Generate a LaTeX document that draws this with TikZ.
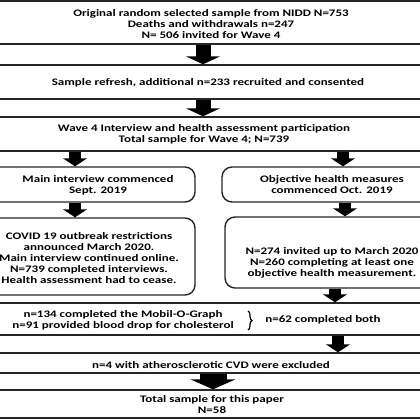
\documentclass[tikz,border=0pt]{standalone}
\usepackage{fontspec}
\setmainfont{Carlito}[FakeStretch=1.3]
\usetikzlibrary{arrows.meta,decorations.pathreplacing,calc}
\begin{document}
\begin{tikzpicture}[x=1pt,y=-1pt,
  box/.style={draw=black!85, line width=1.4pt, inner sep=0pt},
  rbox/.style={box, rounded corners=10pt},
  lbl/.style={font=\fontsize{10}{11}\selectfont\bfseries, align=center, inner sep=0pt},
  bigarrow/.style={line width=15pt, -{Triangle[width=34pt,length=8pt]}},
  smallarrow/.style={line width=12pt, -{Triangle[width=24pt,length=8pt]}},
  hugearrow/.style={line width=27pt, -{Triangle[width=45pt,length=10pt]}},
]
\useasboundingbox (0,0) rectangle (420,420);
\fill[white] (0,0) rectangle (420,420);
\begin{scope}
\clip (0,0) rectangle (420,420);
% boxes
\node[box, minimum width=440pt, minimum height=43pt] (b1) at (210,22.5) {};
\node[box, minimum width=440pt, minimum height=34pt] (b2) at (210,82) {};
\node[box, minimum width=440pt, minimum height=34pt] (b3) at (210,134) {};
\node[rbox, minimum width=205pt, minimum height=35pt] (b4l) at (92.5,184.5) {};
\node[rbox, minimum width=220pt, minimum height=35pt] (b4r) at (332,184.5) {};
\node[rbox, minimum width=205pt, minimum height=77pt] (b5l) at (92.5,256.5) {};
\node[rbox, minimum width=215pt, minimum height=71pt] (b5r) at (332.5,252.5) {};
\node[box, minimum width=440pt, minimum height=32pt] (b6) at (210,319) {};
\node[box, minimum width=440pt, minimum height=20pt] (b7) at (210,363) {};
\node[box, minimum width=440pt, minimum height=28pt] (b8) at (210,404) {};
% texts
\node[lbl] (t1) at (211,24) {Original random selected sample from NIDD N=753\\Deaths and withdrawals n=247\\N= 506 invited for Wave 4};
\node[lbl] (t2) at (208,83) {Sample refresh, additional n=233 recruited and consented};
\node[lbl] (t3) at (204,134) {Wave 4 Interview and health assessment participation\\Total sample for Wave 4; N=739};
\node[lbl] (t4l) at (98,185) {Main interview commenced\\Sept. 2019};
\node[lbl] (t4r) at (332,185) {Objective health measures\\commenced Oct. 2019};
\node[lbl] (t5l) at (89,258) {COVID 19 outbreak restrictions\\announced March 2020.\\Main interview continued online.\\N=739 completed interviews.\\Health assessment had to cease.};
\node[lbl] (t5r) at (332,263) {N=274 invited up to March 2020\\N=260 completing at least one\\objective health measurement.};
\node[lbl] (t6l) at (123,320) {n=134 completed the Mobil-O-Graph\\n=91 provided blood drop for cholesterol};
\node[lbl] (t6r) at (323,320) {n=62 completed both};
\node[lbl] (t7) at (211,365) {n=4 with atherosclerotic CVD were excluded};
\node[lbl] (t8) at (212,405) {Total sample for this paper\\N=58};
\coordinate (br1) at (248,311);
\coordinate (br2) at (248,330);
\draw[line width=1.2pt, decorate, decoration={brace, amplitude=4pt}] (br1) -- (br2);
% arrow x positions
\coordinate (xa) at (203,0);
\coordinate (xl) at (75,0);
\coordinate (xr) at (343,0);
\coordinate (xr2) at (345,0);
\coordinate (xr3) at (335,0);
\coordinate (xr4) at (338,0);
\coordinate (xb) at (213,0);
\draw[bigarrow] (b1.south -| xa) -- (b2.north -| xa);
\draw[bigarrow] (b2.south -| xa) -- (b3.north -| xa);
\draw[smallarrow] (b3.south -| xl) -- (b4l.north -| xl);
\draw[smallarrow] (b3.south -| xr) -- (b4r.north -| xr);
\draw[smallarrow] (b4l.south -| xl) -- (b5l.north -| xl);
\draw[smallarrow] (b4r.south -| xr2) -- (b5r.north -| xr2);
\draw[smallarrow] (b5r.south -| xr3) -- (b6.north -| xr3);
\draw[smallarrow] (b6.south -| xr4) -- (b7.north -| xr4);
\draw[hugearrow] (b7.south -| xb) -- (b8.north -| xb);
\end{scope}
\end{tikzpicture}
\end{document}
